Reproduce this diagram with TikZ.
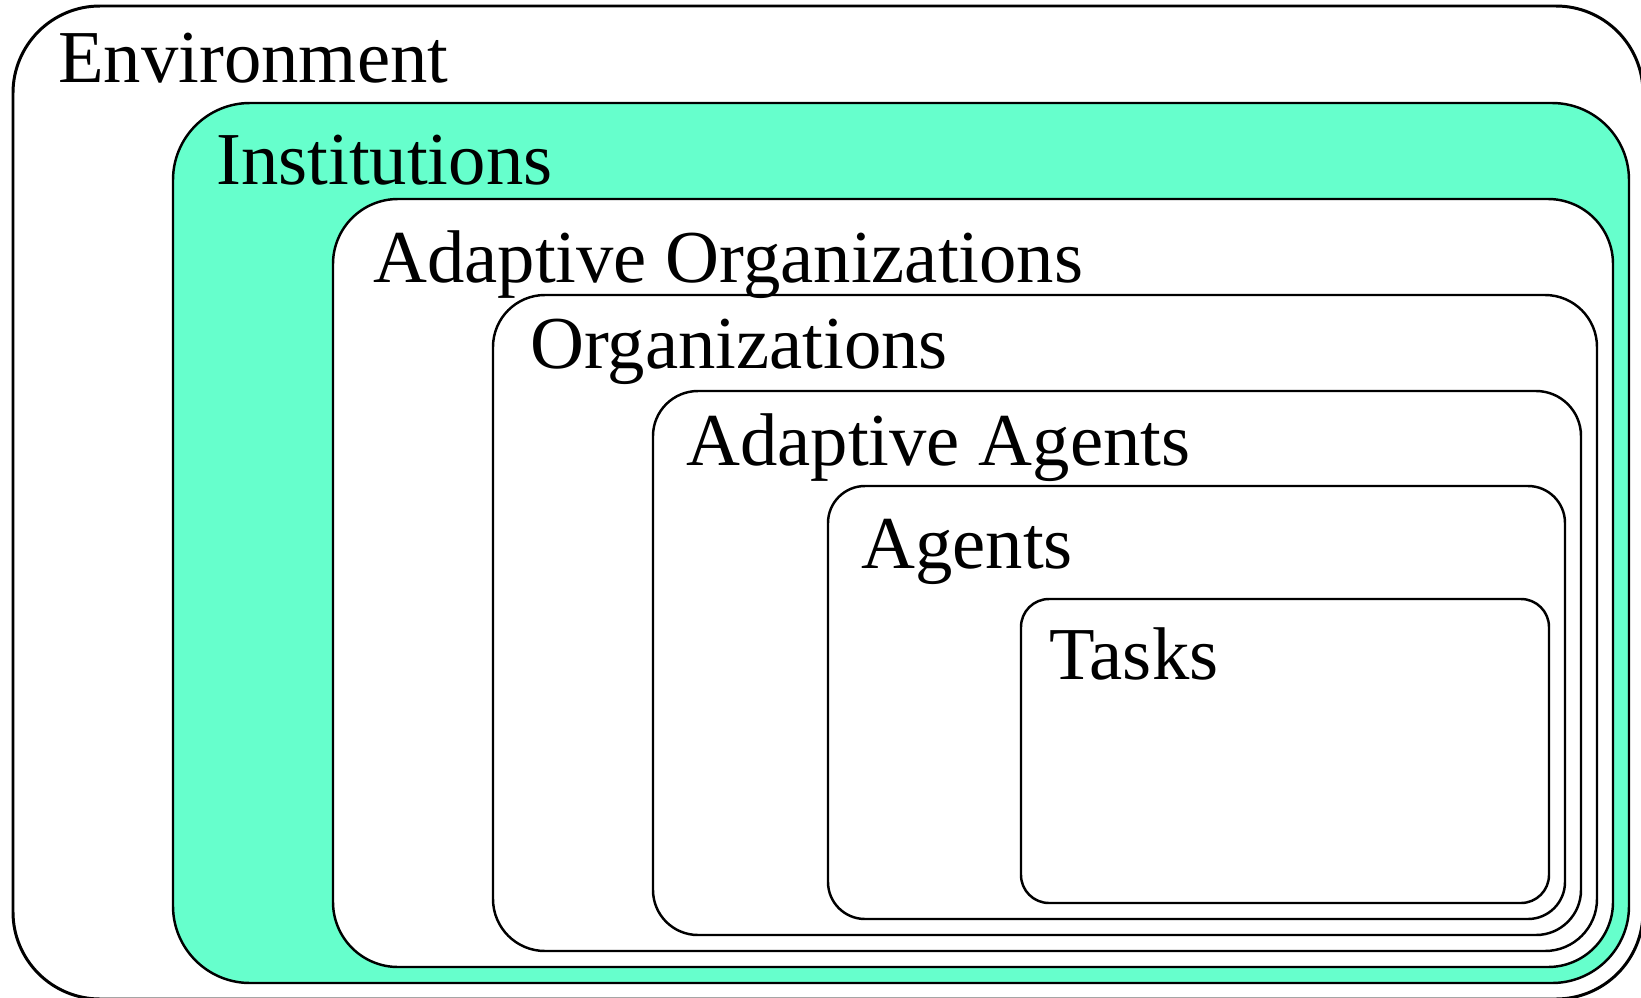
\documentclass[tikz,border=0pt]{standalone}
\usepackage{fontspec}
\setmainfont{Liberation Serif}
\usepackage{tikz}
\definecolor{instgreen}{RGB}{102,255,204}

\begin{document}
\begin{tikzpicture}[x=0.02cm, y=-0.02cm,
    layer/.style={draw=black, line width=1.4pt, fill=white},
    lbl/.style={anchor=base west, inner sep=0pt, font=\fontsize{42.5}{50}\selectfont}]
        \useasboundingbox (0,0) rectangle (1641,998);
        \clip (0,0) rectangle (1641,998);

        % nested layers, outside to inside
        \draw[layer, line width=1.7pt, rounded corners=1.74cm] (13,6) rectangle (1643,999);
        \draw[layer, fill=instgreen, rounded corners=1.54cm] (173,103) rectangle (1629,983);
        \draw[layer, rounded corners=1.3cm] (333,199) rectangle (1613,967);
        \draw[layer, rounded corners=1.04cm] (493,295) rectangle (1597,951);
        \draw[layer, rounded corners=0.9cm] (653,391) rectangle (1581,935);
        \draw[layer, rounded corners=0.74cm] (828,486) rectangle (1565,919);
        \draw[layer, rounded corners=0.56cm] (1021,599) rectangle (1549,903);

        \node[lbl] (env) at (58,82) {Environment};
        \node[lbl] (inst) at (216,184) {Institutions};
        \node[lbl] (adorg) at (373,282) {Adaptive Organizations};
        \node[lbl] (org) at (530,368) {Organizations};
        \node[lbl] (adag) at (686,465) {Adaptive Agents};
        \node[lbl] (ag) at (861,568) {Agents};
        \node[lbl] (tasks) at (1049,679) {Tasks};
    \end{tikzpicture}
\end{document}
